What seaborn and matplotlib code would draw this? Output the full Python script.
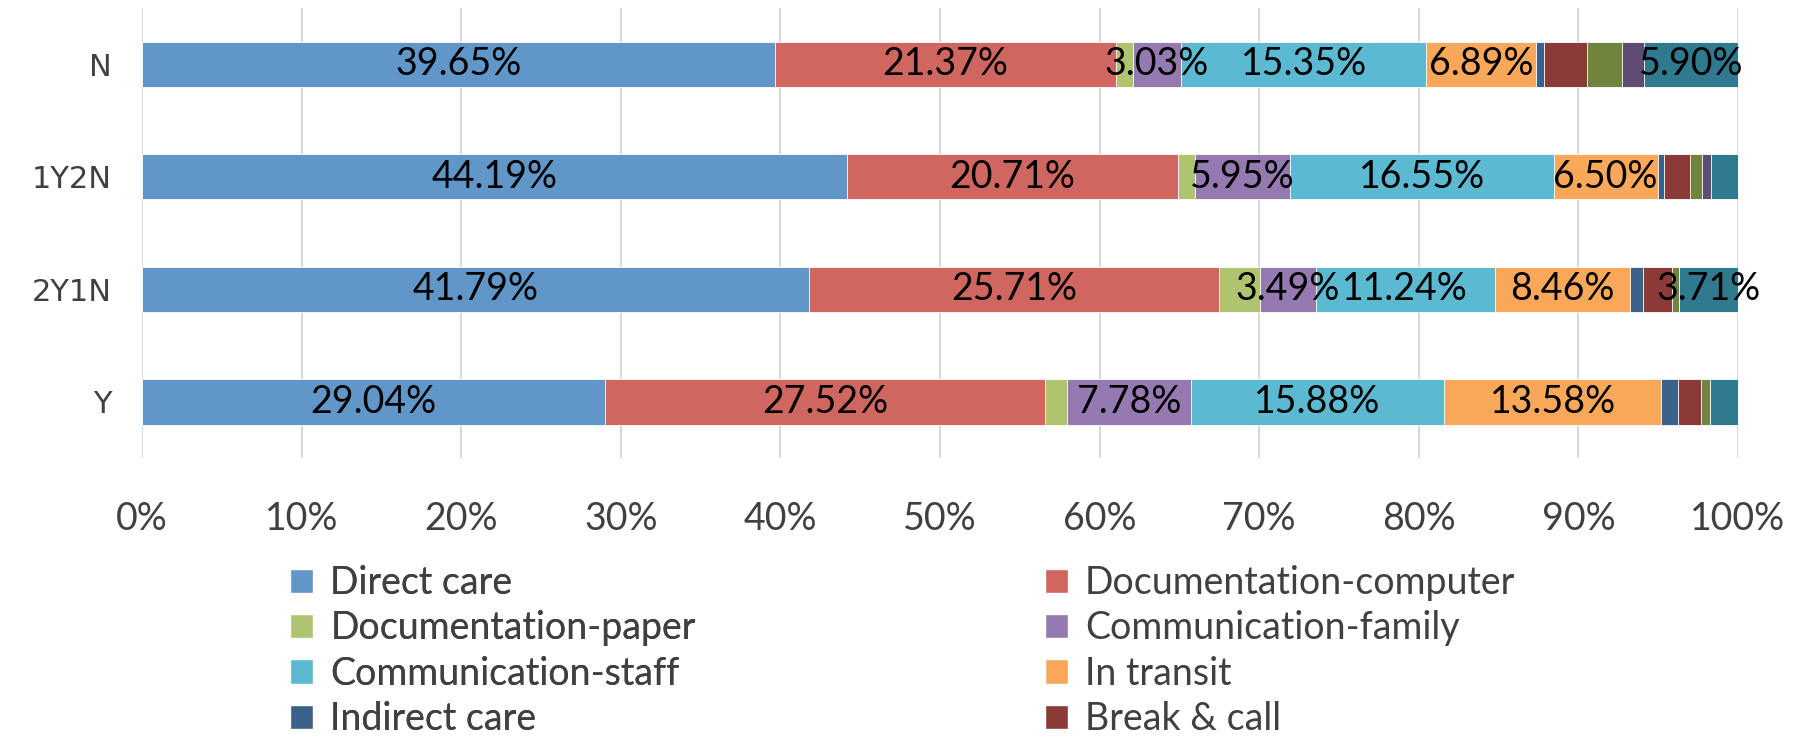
import matplotlib
matplotlib.use("Agg")
import matplotlib.pyplot as plt
from matplotlib.patches import Patch
import seaborn as sns
import pandas as pd
import numpy as np

groups = ["N", "1Y2N", "2Y1N", "Y"]
categories = ["Direct care", "Documentation-computer", "Documentation-paper",
              "Communication-family", "Communication-staff", "In transit",
              "Indirect care", "Break & call", "Category 9", "Category 10", "Category 11"]

# percent of time per group
direct_care = [39.65, 44.19, 41.79, 29.04]
doc_computer = [21.37, 20.71, 25.71, 27.52]
doc_paper = [1.06, 1.06, 2.54, 1.38]
comm_family = [3.03, 5.95, 3.49, 7.78]
comm_staff = [15.35, 16.55, 11.24, 15.88]
in_transit = [6.89, 6.50, 8.46, 13.58]
indirect_care = [0.50, 0.42, 0.80, 1.08]
break_call = [2.70, 1.61, 1.85, 1.42]
cat_9 = [2.19, 0.75, 0.41, 0.55]
cat_10 = [1.36, 0.59, 0.00, 0.00]
cat_11 = [5.90, 1.67, 3.71, 1.77]

colors = ["#6096C8", "#CF665F", "#AEC46E", "#957AB2", "#5BB9D1", "#F9A85A",
          "#3A6189", "#8B3A38", "#71843F", "#5E4C72", "#2F7A8E"]

series = [direct_care, doc_computer, doc_paper, comm_family, comm_staff, in_transit,
          indirect_care, break_call, cat_9, cat_10, cat_11]
df = pd.DataFrame(dict(zip(categories, series)), index=groups)
cum = df.cumsum(axis=1)

sns.set_style("white")
plt.rcParams["font.family"] = ["Lato", "DejaVu Sans"]

fig = plt.figure(figsize=(18.04, 7.41), dpi=100)
ax = fig.add_axes([0.0787, 0.3815, 0.8847, 0.6081])

# stacked bars: draw cumulative totals from the longest to the shortest
for cat, col in reversed(list(zip(categories, colors))):
    sns.barplot(x=cum[cat].values, y=groups, orient="h", order=groups, color=col,
                saturation=1, width=0.4, edgecolor="white", linewidth=0.6, ax=ax)

for i, g in enumerate(groups):
    for cat in categories:
        v = df.loc[g, cat]
        if v >= 3:
            ax.text(cum.loc[g, cat] - v / 2, i, f"{v:.2f}%", ha="center", va="center",
                    fontsize=27, color="black", family="Lato")

ax.set_xlim(0, 100)
ticks = np.arange(0, 101, 10)
ax.set_xticks(ticks)
ax.set_xticklabels([f"{t}%" for t in ticks], fontsize=27, color="#404040", family="Lato")
ax.set_yticks(range(len(groups)))
ax.set_yticklabels(groups, fontsize=22, color="#404040", family="DejaVu Sans")
ax.set_ylim(len(groups) - 0.5, -0.5)
ax.set_xlabel("")
ax.set_ylabel("")
ax.xaxis.grid(True, color="#D9D9D9", linewidth=1.5)
ax.set_axisbelow(True)
ax.tick_params(axis="both", length=0)
ax.tick_params(axis="x", pad=31)
ax.tick_params(axis="y", pad=22)
for s in ax.spines.values():
    s.set_visible(False)

left_col = [0, 2, 4, 6]
right_col = [1, 3, 5, 7]
leg_kw = dict(loc="upper left", frameon=False, fontsize=27, labelcolor="#404040",
              handlelength=0.62, handleheight=0.62, handletextpad=0.45,
              labelspacing=0.25, borderaxespad=0, borderpad=0)
leg1 = fig.legend(handles=[Patch(facecolor=colors[k], label=categories[k]) for k in left_col],
                  bbox_to_anchor=(290 / 1804, 0.2375), **leg_kw)
fig.add_artist(leg1)
fig.legend(handles=[Patch(facecolor=colors[k], label=categories[k]) for k in right_col],
           bbox_to_anchor=(1045 / 1804, 0.2375), **leg_kw)

fig.savefig("out.png", dpi=100)
